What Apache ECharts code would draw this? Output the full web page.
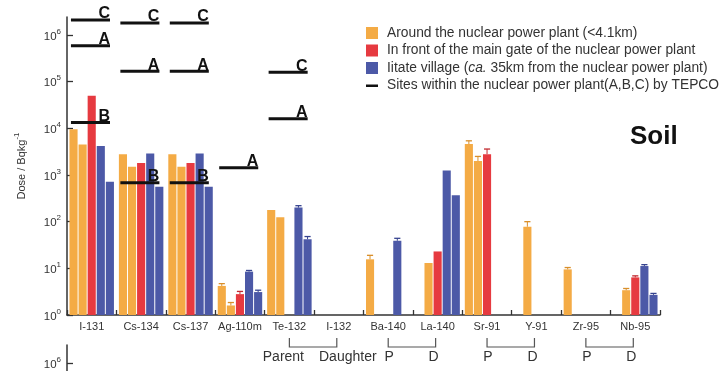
<!DOCTYPE html>
<html>
<head>
<meta charset="utf-8">
<script src="https://cdn.jsdelivr.net/npm/echarts@6/dist/echarts.min.js"></script>
<style>
html,body{margin:0;padding:0;background:#fff;}
#main{width:720px;height:371px;}
</style>
</head>
<body>
<div id="main"></div>
<script>
var categories = ['I-131','Cs-134','Cs-137','Ag-110m','Te-132','I-132','Ba-140','La-140','Sr-91','Y-91','Zr-95','Nb-95'];
//around the plant, two points
var aroundA = [9500, 2800, 2800, 4.2, 177, null, 15.6, null, 4600, null, 9.5, null];
var aroundB = [4500, 1500, 1500, 1.6, 124, null, null, 13, 2000, 78, null, 3.4];
//main gate
var gate = [50000, 1800, 1800, 2.8, null, null, null, 23, 2800, null, null, 6.4];
//iitate village, two points
var iitateA = [4200, 2900, 2900, 8.5, 200, null, 39, 1250, null, null, null, 11.2];
var iitateB = [720, 560, 560, 3.1, 42, null, null, 370, null, null, null, 2.7];
//upper ends of the error bars
var aroundAErr = [null, null, null, 4.7, null, null, 19, null, 5400, null, 10.4, null];
var aroundBErr = [null, null, null, 1.85, null, null, null, null, 2500, 100, null, 3.7];
var gateErr = [null, null, null, 3.2, null, null, null, null, 3600, null, null, 6.9];
var iitateAErr = [null, null, null, 9, 220, null, 44, null, null, null, null, 12];
var iitateBErr = [null, null, null, 3.4, 48, null, null, null, null, null, null, 2.9];
//TEPCO sites A,B,C
var siteA = [590000, 167000, 167000, 1430, 16000, null, null, null, null, null, null, null];
var siteB = [13400, 680, 680, null, null, null, null, null, null, null, null, null];
var siteC = [2100000, 1800000, 1800000, null, 160000, null, null, null, null, null, null, null];
//parent / daughter pairs
var pairs = [[4, 5], [6, 7], [8, 9], [10, 11]];
var pairLabels = [['Parent', 'Daughter'], ['P', 'D'], ['P', 'D'], ['P', 'D']];

var nAround = 'Around the nuclear power plant (<4.1km)';
var nGate = 'In front of the main gate of the nuclear power plant';
var nIitate = 'Iitate village (ca. 35km from the nuclear power plant)';
var nSites = 'Sites within the nuclear power plant(A,B,C) by TEPCO';

var cOrange = '#F4AB45', cRed = '#E63A40', cBlue = '#4C59A7';
var slotColors = ['#D98F2B', '#D98F2B', '#C22B31', '#36438F', '#36438F'];
var FONT = 'Liberation Sans, Arial, sans-serif';
var CAT_GAP = 0.1, BAR_GAP = 0.12, NBAR = 5;
var TOPMAX = Math.pow(10, 298 / (280 / 6));

var dom = document.getElementById('main');
var myChart = echarts.init(dom);

//x position of bar slot i inside a category
function slotX(api, cat, slot) {
	var band = api.size([1, 1], [cat, 1])[0];
	var w = band * (1 - CAT_GAP) / (NBAR + (NBAR - 1) * BAR_GAP);
	var total = NBAR * w + (NBAR - 1) * BAR_GAP * w;
	var cx = api.coord([cat, 1])[0];
	return {x: cx - total / 2 + slot * w * (1 + BAR_GAP) + w / 2, w: w};
}

var errData = [];
[[aroundA, aroundAErr], [aroundB, aroundBErr], [gate, gateErr], [iitateA, iitateAErr], [iitateB, iitateBErr]].forEach(function (p, slot) {
	for (var i = 0; i < categories.length; i++) {
		if (p[1][i] != null && p[0][i] != null) {
			errData.push([i, slot, p[0][i], p[1][i]]);
		}
	}
});
var siteData = [];
[siteA, siteB, siteC].forEach(function (arr, k) {
	for (var i = 0; i < arr.length; i++) {
		if (arr[i] != null) siteData.push([i, arr[i], k]);
	}
});
var pairData = pairs.map(function (p, k) { return [p[0], 1, p[1], k]; });

function barSeries(name, data, color) {
	return {
		name: name, type: 'bar', data: data,
		barCategoryGap: (CAT_GAP * 100) + '%', barGap: (BAR_GAP * 100) + '%',
		itemStyle: {color: color}
	};
}
var logLabel = {
	fontSize: 11.5, color: '#333', margin: 6,
	formatter: function (v) {
		return '{b|10}{s|' + Math.round(Math.log(v) / Math.LN10) + '}';
	},
	rich: {
		b: {fontSize: 11.5, color: '#333', lineHeight: 15, verticalAlign: 'bottom'},
		s: {fontSize: 8, color: '#333', lineHeight: 15, verticalAlign: 'top'}
	}
};
var tickStyle = {show: true, inside: true, length: 6, lineStyle: {color: '#333', width: 1.3}};
var lineStyle = {show: true, lineStyle: {color: '#333', width: 1.5}};

option = {
	animation: false,
	textStyle: {fontFamily: FONT},
	grid: [
		{left: 67, right: 60, top: 17, bottom: 56, outerBoundsMode: 'none'},
		{left: 67, right: 60, top: 35, bottom: 56, outerBoundsMode: 'none'},
		{left: 67, right: 60, top: 345, height: 298, outerBoundsMode: 'none'},
		{left: 67, right: 60, top: 363, height: 280, outerBoundsMode: 'none'}
	],
	legend: {
		orient: 'vertical', left: 366, top: 26, padding: 0,
		itemWidth: 12, itemHeight: 12, itemGap: 3.5, selectedMode: false,
		textStyle: {fontSize: 13.8, color: '#333', lineHeight: 14, padding: [0, 0, 0, 4],
			rich: {
				n: {fontSize: 13.8, color: '#333'},
				i: {fontSize: 13.8, color: '#333', fontStyle: 'italic'}
			}
		},
		formatter: function (n) {
			if (n === nIitate) return '{n|Iitate village (}{i|ca.}{n| 35km from the nuclear power plant)}';
			return n;
		},
		data: [
			{name: nAround, icon: 'rect'},
			{name: nGate, icon: 'rect'},
			{name: nIitate, icon: 'rect'},
			{name: nSites, icon: 'path://M0,0L0,0M0,5L12,5L12,7.5L0,7.5ZM12,12L12,12'}
		]
	},
	xAxis: [
		{
			type: 'category', gridIndex: 0, data: categories, boundaryGap: true,
			axisLine: lineStyle,
			axisTick: {show: true, inside: true, length: 5, lineStyle: {color: '#333', width: 1.3}},
			axisLabel: {fontSize: 11, color: '#333', margin: 6, interval: 0},
			splitLine: {show: false}
		},
		{type: 'value', gridIndex: 1, show: false, min: 0, max: 1},
		{type: 'value', gridIndex: 2, show: false, min: 0, max: 1},
		{type: 'value', gridIndex: 3, show: false, min: 0, max: 1}
	],
	yAxis: [
		{
			type: 'log', gridIndex: 0, min: 1, max: TOPMAX,
			axisLine: lineStyle, axisTick: {show: false}, axisLabel: {show: false}, splitLine: {show: false},
			name: '{a|Dose / Bqkg}{s|-1}', nameLocation: 'middle', nameRotate: 90, nameGap: 40,
			nameTextStyle: {
				rich: {
					a: {fontSize: 11, color: '#333', lineHeight: 14, verticalAlign: 'bottom'},
					s: {fontSize: 8, color: '#333', lineHeight: 14, verticalAlign: 'top'}
				}
			}
		},
		{
			type: 'log', gridIndex: 1, min: 1, max: 1e6,
			axisLine: {show: false}, axisTick: tickStyle, axisLabel: logLabel, splitLine: {show: false}
		},
		{
			type: 'log', gridIndex: 2, min: 1, max: TOPMAX,
			axisLine: lineStyle, axisTick: {show: false}, axisLabel: {show: false}, splitLine: {show: false}
		},
		{
			type: 'log', gridIndex: 3, min: 1, max: 1e6,
			axisLine: {show: false}, axisTick: tickStyle, axisLabel: logLabel, splitLine: {show: false}
		}
	],
	graphic: [
		{type: 'text', left: 630, top: 124, style: {text: 'Soil', font: 'bold 26px ' + FONT, fill: '#111'}}
	],
	series: [
		barSeries(nAround, aroundA, cOrange),
		barSeries(nAround, aroundB, cOrange),
		barSeries(nGate, gate, cRed),
		barSeries(nIitate, iitateA, cBlue),
		barSeries(nIitate, iitateB, cBlue),
		{
			//error bars
			type: 'custom', data: errData, z: 4, clip: false,
			encode: {x: 0, y: 2},
			renderItem: function (params, api) {
				var cat = api.value(0), slot = api.value(1);
				var s = slotX(api, cat, slot);
				var y0 = api.coord([cat, api.value(2)])[1];
				var y1 = api.coord([cat, api.value(3)])[1];
				var col = slotColors[slot];
				return {type: 'group', children: [
					{type: 'line', shape: {x1: s.x, y1: y0, x2: s.x, y2: y1}, style: {stroke: col, lineWidth: 1}},
					{type: 'line', shape: {x1: s.x - s.w * 0.38, y1: y1, x2: s.x + s.w * 0.38, y2: y1}, style: {stroke: col, lineWidth: 1.3}}
				]};
			}
		},
		{
			//TEPCO sites
			name: nSites, type: 'custom', data: siteData, z: 5, clip: false,
			itemStyle: {color: '#111'},
			encode: {x: 0, y: 1},
			renderItem: function (params, api) {
				var cat = api.value(0);
				var band = api.size([1, 1], [cat, 1])[0];
				var p = api.coord([cat, api.value(1)]);
				var left = p[0] - band / 2;
				var x1 = left + band * 0.08, x2 = left + band * 0.87;
				return {type: 'group', children: [
					{type: 'line', shape: {x1: x1, y1: p[1], x2: x2, y2: p[1]}, style: {stroke: '#111', lineWidth: 3}},
					{type: 'text', x: x2, y: p[1] + 2, style: {text: 'ABC'.charAt(api.value(2)), font: 'bold 16px ' + FONT, fill: '#111', align: 'right', verticalAlign: 'bottom'}}
				]};
			}
		},
		{
			//parent / daughter brackets
			type: 'custom', data: pairData, z: 3, clip: false, silent: true,
			encode: {x: 0, y: 1},
			renderItem: function (params, api) {
				var a = api.coord([api.value(0), 1]);
				var b = api.coord([api.value(2), 1]);
				var lab = pairLabels[api.value(3)];
				var yT = a[1] + 23, yB = a[1] + 32, yL = a[1] + 42;
				var dxA = lab[0].length > 1 ? -6 : 1, dxB = lab[1].length > 1 ? 9 : -4;
				var st = {stroke: '#555', fill: 'none', lineWidth: 1.2};
				return {type: 'group', children: [
					{type: 'polyline', shape: {points: [[a[0], yT], [a[0], yB], [b[0] - 2, yB], [b[0] - 2, yT]]}, style: st},
					{type: 'text', x: a[0] + dxA, y: yL, style: {text: lab[0], font: '14px ' + FONT, fill: '#333', align: 'center', verticalAlign: 'middle'}},
					{type: 'text', x: b[0] + dxB, y: yL, style: {text: lab[1], font: '14px ' + FONT, fill: '#333', align: 'center', verticalAlign: 'middle'}}
				]};
			}
		}
	]
};
if (option && typeof option === "object") {
	myChart.setOption(option, true);
}
</script>
</body>
</html>
